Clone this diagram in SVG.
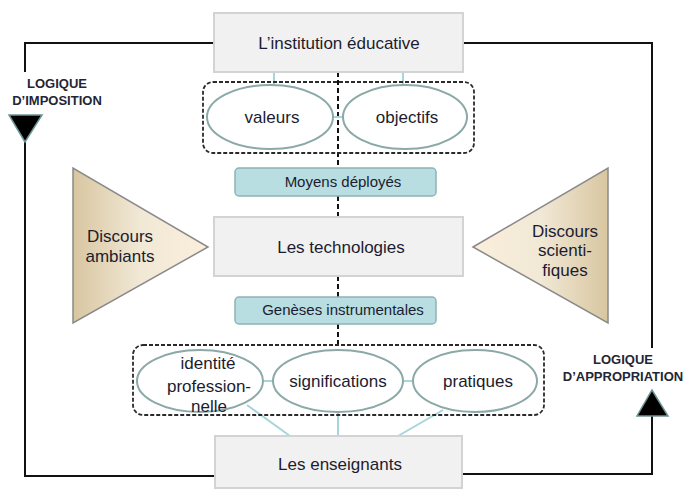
<svg xmlns="http://www.w3.org/2000/svg" width="686" height="490" viewBox="0 0 686 490">
<defs>
<linearGradient id="gl" x1="0" y1="0" x2="1" y2="0"><stop offset="0" stop-color="#d8c6a0"/><stop offset="0.5" stop-color="#f1e8d6"/><stop offset="1" stop-color="#fbefdc"/></linearGradient>
<linearGradient id="gr" x1="0" y1="0" x2="1" y2="0"><stop offset="0" stop-color="#fbefdc"/><stop offset="0.5" stop-color="#f1e8d6"/><stop offset="1" stop-color="#d8c6a0"/></linearGradient>
<style>
.box{fill:#f1f1f1;stroke:#d3d3d3;stroke-width:2}
.tbox{fill:#b8dee1;stroke:#8fb2b2;stroke-width:1.5}
.grp{fill:none;stroke:#2a2a2a;stroke-width:1.8;stroke-dasharray:4 2}
.ell{fill:#fff;stroke:#8aa9a7;stroke-width:2}
.t{font-family:"Liberation Sans",Arial,sans-serif;fill:#1c1c30;text-anchor:middle}
.m{font-size:17px}
.s{font-size:15px}
.b{font-size:13px;font-weight:bold;fill:#1e2638}
.line{fill:none;stroke:#111;stroke-width:2}
.dash{fill:none;stroke:#111;stroke-width:2;stroke-dasharray:5 3}
.teal{fill:none;stroke:#a6d6da;stroke-width:2}
.tri{fill:#000;stroke:#6d9393;stroke-width:1.5}
.disc{stroke:#8a8a8a;stroke-width:1.5}
</style>
</defs>
<rect width="686" height="490" fill="#fff"/>
<g id="connectors">
<path class="line" d="M214 43 H25 V72 M25 142 V476 H215"/>
<path class="line" d="M463 43 H652 V348 M652 416 V474 H462"/>
<path class="dash" d="M338 72 V168 M338 196 V217 M338 276 V297 M338 324 V345"/>
<path class="teal" d="M274 72 V84 M403 72 V84 M333 117 H343 M263 381 H273 M403 381 H413 M247 405 L290 436 M338 413 V436 M443 410 L398 436"/>
</g>
<g id="logique-imposition">
<polygon class="tri" points="9,115 42,115 25,142"/>
<text class="t b" x="57" y="88">LOGIQUE</text>
<text class="t b" x="57" y="105">D’IMPOSITION</text>
</g>
<g id="logique-appropriation">
<polygon class="tri" points="637,416 668,416 652,390"/>
<text class="t b" x="623" y="364">LOGIQUE</text>
<text class="t b" x="623" y="381">D’APPROPRIATION</text>
</g>
<g id="institution">
<rect class="box" x="214" y="13" width="249" height="59"/>
<text class="t m" x="339" y="49">L’institution éducative</text>
</g>
<g id="groupe-haut">
<rect class="grp" x="203" y="82" width="271" height="71" rx="10"/>
</g>
<g id="valeurs">
<ellipse class="ell" cx="270" cy="117" rx="63" ry="32"/>
<text class="t m" x="272" y="123">valeurs</text>
</g>
<g id="objectifs">
<ellipse class="ell" cx="405" cy="117" rx="62" ry="32"/>
<text class="t m" x="407" y="123">objectifs</text>
</g>
<g id="moyens">
<rect class="tbox" x="235" y="168" width="201" height="28" rx="4"/>
<text class="t s" x="343" y="187">Moyens déployés</text>
</g>
<g id="technologies">
<rect class="box" x="214" y="217" width="249" height="59"/>
<text class="t m" x="341" y="253">Les technologies</text>
</g>
<g id="geneses">
<rect class="tbox" x="235" y="297" width="201" height="27" rx="4"/>
<text class="t s" x="343" y="315">Genèses instrumentales</text>
</g>
<g id="discours-ambiants">
<polygon class="disc" fill="url(#gl)" points="73,168 73,323 208,247"/>
<text class="t m" x="120" y="242">Discours</text>
<text class="t m" x="120" y="262">ambiants</text>
</g>
<g id="discours-scientifiques">
<polygon class="disc" fill="url(#gr)" points="473,247 608,168 608,323"/>
<text class="t m" x="565" y="237">Discours</text>
<text class="t m" x="565" y="256">scienti-</text>
<text class="t m" x="565" y="276">fiques</text>
</g>
<g id="groupe-bas">
<rect class="grp" x="133" y="345" width="411" height="70" rx="10"/>
</g>
<g id="identite">
<ellipse class="ell" cx="200" cy="381" rx="63" ry="31"/>
<text class="t m" x="208" y="369">identité</text>
<text class="t m" x="209" y="392">profession-</text>
<text class="t m" x="209" y="412">nelle</text>
</g>
<g id="significations">
<ellipse class="ell" cx="338" cy="381" rx="65" ry="31"/>
<text class="t m" x="338" y="387">significations</text>
</g>
<g id="pratiques">
<ellipse class="ell" cx="475" cy="381" rx="62" ry="31"/>
<text class="t m" x="478" y="387">pratiques</text>
</g>
<g id="enseignants">
<rect class="box" x="215" y="436" width="247" height="52"/>
<text class="t m" x="340" y="470">Les enseignants</text>
</g>
</svg>
